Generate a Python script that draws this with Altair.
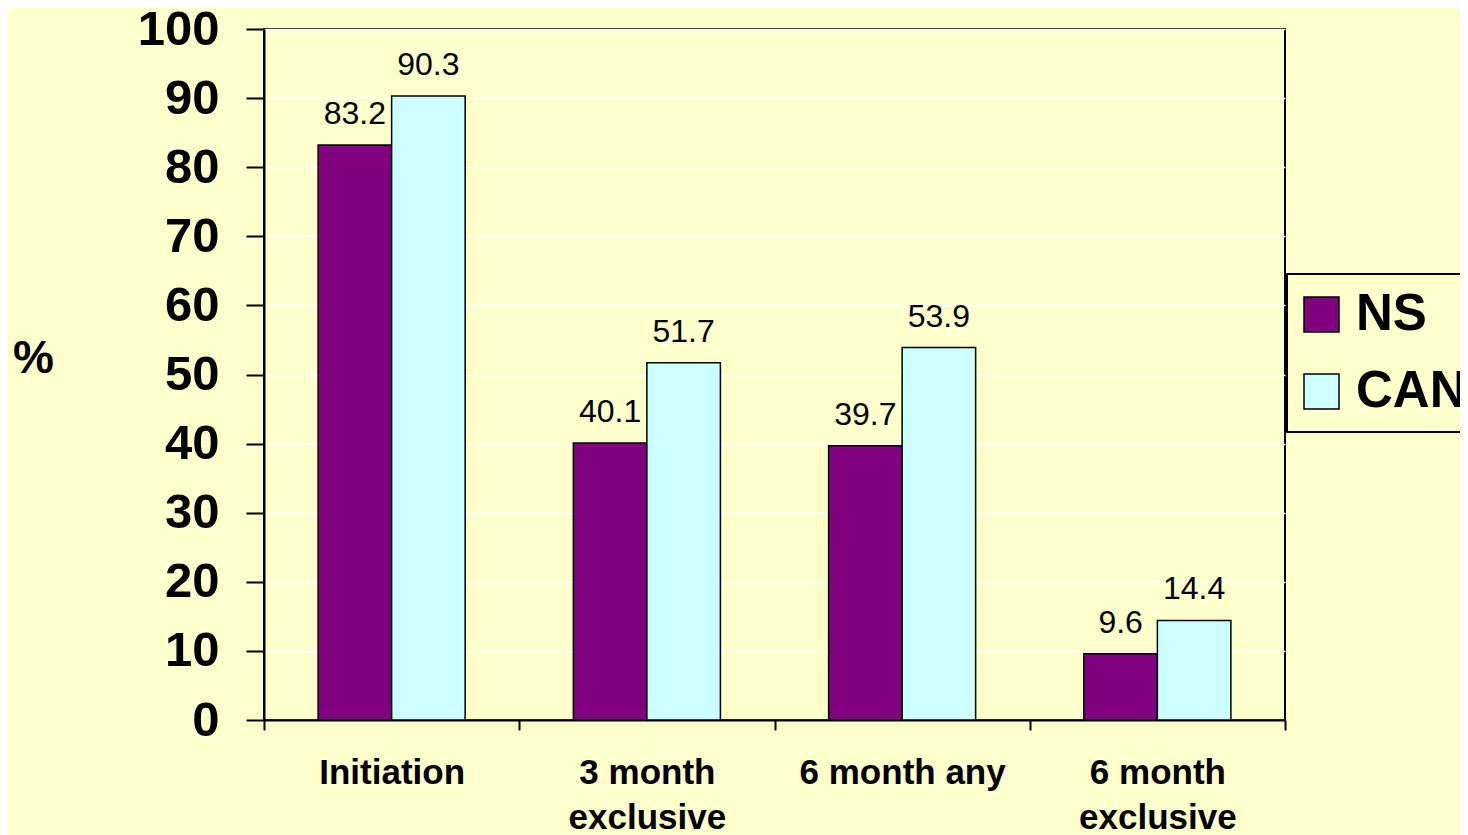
import altair as alt
import pandas as pd

categories = ["Initiation", "3 month exclusive", "6 month any", "6 month exclusive"]
series = ["NS", "CAN"]
ns_values = [83.2, 40.1, 39.7, 9.6]
can_values = [90.3, 51.7, 53.9, 14.4]
colors = ["#800080", "#CCFFFF"]
y_ticks = list(range(0, 101, 10))

rows = []
for c, a, b in zip(categories, ns_values, can_values):
    rows.append({"category": c, "series": "NS", "value": a})
    rows.append({"category": c, "series": "CAN", "value": b})
df = pd.DataFrame(rows)

FONT = "Liberation Sans"
BG = "#FFFFCC"

x = alt.X(
    "category:N",
    sort=categories,
    scale=alt.Scale(paddingInner=0, paddingOuter=0),
    axis=alt.Axis(
        title=None,
        labelAngle=0,
        tickBand="extent",
        ticks=True,
        tickSize=10,
        tickColor="black",
        tickWidth=2,
        domainColor="black",
        domainWidth=2,
        labelFont=FONT,
        labelFontSize=35,
        labelFontWeight="bold",
        labelColor="black",
        labelLineHeight=45,
        labelPadding=25,
        labelLimit=0,
        grid=False,
        labelExpr="datum.label == '6 month any' ? datum.label : split(replace(datum.label, 'month ', 'month|'), '|')",
    ),
)
xoff = alt.XOffset(
    "series:N", sort=series, scale=alt.Scale(paddingInner=0, paddingOuter=0.736)
)
y = alt.Y(
    "value:Q",
    scale=alt.Scale(domain=[0, 100], nice=False),
    axis=alt.Axis(
        values=y_ticks,
        tickSize=18,
        tickColor="black",
        tickWidth=2,
        domainColor="black",
        domainWidth=2,
        labelFont=FONT,
        labelFontSize=49,
        labelFontWeight="bold",
        labelColor="black",
        labelPadding=27,
        gridColor="white",
        gridWidth=1.5,
        title="%",
        titleAngle=0,
        titleX=-231,
        titleY=329,
        titleFont=FONT,
        titleFontSize=46,
        titleFontWeight="bold",
        titleColor="black",
        titleAlign="center",
        titleBaseline="middle",
    ),
)

bars = alt.Chart(df).mark_bar(stroke="black", strokeWidth=1.5).encode(
    x=x,
    xOffset=xoff,
    y=y,
    color=alt.Color(
        "series:N",
        sort=series,
        scale=alt.Scale(domain=series, range=colors),
        legend=alt.Legend(
            title=None,
            orient="none",
            legendX=1023,
            legendY=245,
            direction="vertical",
            symbolType="square",
            symbolSize=1225,
            symbolStrokeColor="black",
            symbolStrokeWidth=1.5,
            symbolOpacity=1,
            symbolOffset=-6,
            labelFont=FONT,
            labelFontSize=51,
            labelFontWeight="bold",
            labelColor="black",
            labelOffset=9,
            rowPadding=25,
            padding=15,
            strokeColor="black",
            fillColor=BG,
        ),
    ),
)

labels = alt.Chart(df).mark_text(
    dy=-21, baseline="alphabetic", fontSize=32, font=FONT, color="black"
).encode(
    x=alt.X("category:N", sort=categories),
    xOffset=alt.XOffset("series:N", sort=series),
    y=alt.Y("value:Q"),
    text=alt.Text("value:Q", format=".1f"),
)

chart = (
    alt.layer(bars, labels)
    .properties(
        width=1021,
        height=691,
        background=BG,
        autosize=alt.AutoSizeParams(type="none"),
        padding={"left": 256, "top": 21, "right": 175, "bottom": 115},
    )
    .configure_view(stroke="black", strokeWidth=2)
    .configure_legend(strokeWidth=2)
)

chart.save("out.html", embed_options={"renderer": "svg", "actions": False})
